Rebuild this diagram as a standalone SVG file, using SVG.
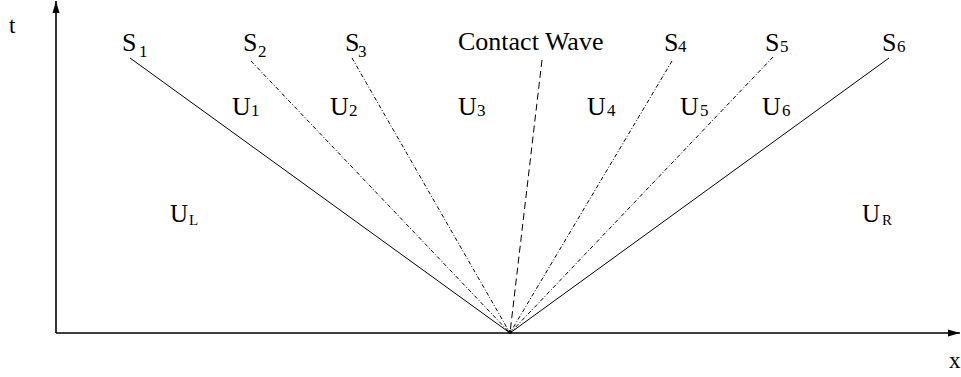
<svg xmlns="http://www.w3.org/2000/svg" width="961" height="377" viewBox="0 0 961 377">
<style>
  text { font-family: "Liberation Serif", "Times New Roman", serif; fill: #000; }
  .lbl { font-size: 26px; }
  .sub { font-size: 17px; }
  .axis { stroke: #000; stroke-width: 1.6; fill: none; }
  .wave { stroke: #000; stroke-width: 1; fill: none; }
  .dd { stroke-dasharray: 4 2 1 2; }
  .dash { stroke-dasharray: 7 4; }
</style>
<defs>
  <marker id="arr" markerWidth="12" markerHeight="8" refX="12" refY="4" orient="auto" markerUnits="userSpaceOnUse">
    <path d="M0,0.5 L12,4 L0,7.5 Z" fill="#000"/>
  </marker>
</defs>
<rect width="961" height="377" fill="#fff"/>

<g id="axes">
  <line class="axis" x1="56" y1="333" x2="56" y2="1" marker-end="url(#arr)"/>
  <line class="axis" x1="56" y1="333" x2="960" y2="333" marker-end="url(#arr)"/>
  <text class="lbl" x="9" y="33" style="font-size:23px">t</text>
  <text class="lbl" x="949" y="368" style="font-size:23px">x</text>
</g>

<g id="connectors">
  <line class="wave" x1="130" y1="58" x2="510" y2="333"/>
  <line class="wave dd" x1="251" y1="61" x2="510" y2="333"/>
  <line class="wave dd" x1="352" y1="58" x2="510" y2="333"/>
  <line class="wave dash" x1="542" y1="60" x2="510" y2="333"/>
  <line class="wave dd" x1="672" y1="61" x2="510" y2="333"/>
  <line class="wave dd" x1="773" y1="57" x2="510" y2="333"/>
  <line class="wave" x1="889" y1="58" x2="510" y2="333"/>
  <circle cx="510" cy="332" r="2" fill="#000"/>
</g>

<g id="S1"><text class="lbl" x="122" y="51">S</text><text class="sub" x="139" y="57">1</text></g>
<g id="S2"><text class="lbl" x="243" y="51">S</text><text class="sub" x="258" y="57">2</text></g>
<g id="S3"><text class="lbl" x="345" y="51">S</text><text class="sub" x="358" y="57">3</text></g>
<g id="contact"><text class="lbl" x="458" y="50">Contact Wave</text></g>
<g id="S4"><text class="lbl" x="664" y="51">S</text><text class="sub" x="678" y="52">4</text></g>
<g id="S5"><text class="lbl" x="765" y="51">S</text><text class="sub" x="780" y="52">5</text></g>
<g id="S6"><text class="lbl" x="882" y="51">S</text><text class="sub" x="897" y="52">6</text></g>

<g id="U1"><text class="lbl" x="232" y="115">U</text><text class="sub" x="251" y="116">1</text></g>
<g id="U2"><text class="lbl" x="330" y="115">U</text><text class="sub" x="349" y="116">2</text></g>
<g id="U3"><text class="lbl" x="458" y="115">U</text><text class="sub" x="477" y="116">3</text></g>
<g id="U4"><text class="lbl" x="587" y="115">U</text><text class="sub" x="607" y="116">4</text></g>
<g id="U5"><text class="lbl" x="680" y="115">U</text><text class="sub" x="700" y="116">5</text></g>
<g id="U6"><text class="lbl" x="762" y="115">U</text><text class="sub" x="782" y="116">6</text></g>
<g id="UL"><text class="lbl" x="170" y="222" style="font-size:25px">U</text><text class="sub" x="189" y="225" style="font-size:15px">L</text></g>
<g id="UR"><text class="lbl" x="862" y="222" style="font-size:25px">U</text><text class="sub" x="882" y="225" style="font-size:15px">R</text></g>
</svg>
